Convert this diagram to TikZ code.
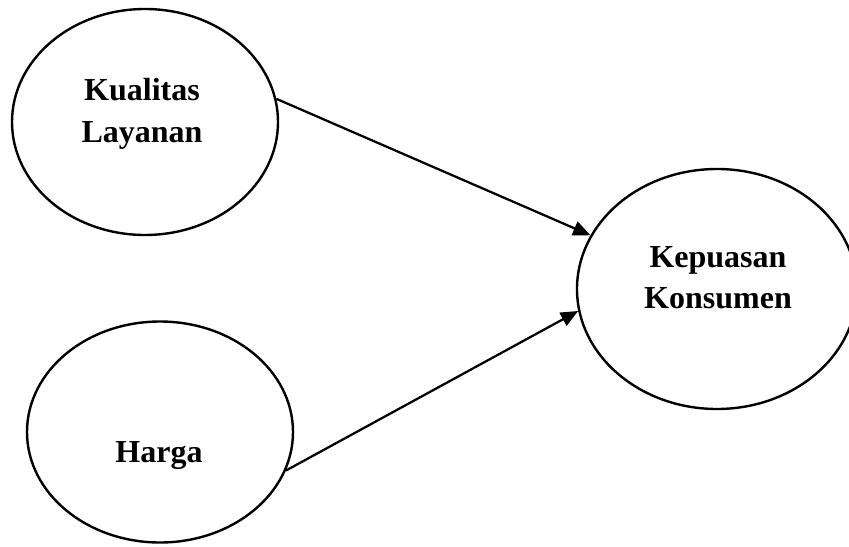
\documentclass[tikz,border=0pt]{standalone}
\usepackage{fontspec}
\setmainfont{Liberation Serif}
\usepackage{tikz}
\usetikzlibrary{shapes.geometric, arrows.meta}

\begin{document}
\begin{tikzpicture}[x=0.75pt, y=-0.75pt,
    varnode/.style={draw, ellipse, line width=1.8pt, inner sep=0pt},
    varlabel/.style={font=\fontsize{24}{31}\selectfont\bfseries, align=center, inner sep=0pt},
    linkarrow/.style={line width=1.7pt, -{Triangle[length=13pt, width=11pt]}}]
    \useasboundingbox (0,0) rectangle (849,546);

    % Variables
    \node[varnode, minimum width=199.5pt, minimum height=169.5pt] (kl) at (145,122) {};
    \node[varlabel] (kl-txt) at (142,114) {Kualitas\\Layanan};

    \node[varnode, minimum width=199.5pt, minimum height=165.75pt] (hg) at (160,432) {};
    \node[varlabel] (hg-txt) at (159,456) {Harga};

    \node[varnode, minimum width=210pt, minimum height=180pt] (kk) at (717,289) {};
    \node[varlabel] (kk-txt) at (718,278) {Kepuasan\\Konsumen};

    % Paths
    \draw[linkarrow] (kl.10) -- (kk.157);
    \draw[linkarrow] (hg.-17) -- (kk.-171);
\end{tikzpicture}
\end{document}
